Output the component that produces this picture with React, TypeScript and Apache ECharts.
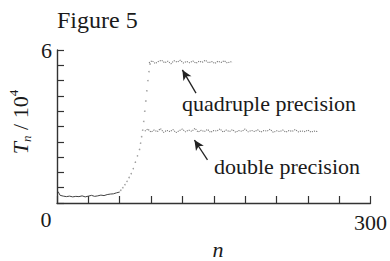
import React, { useEffect, useRef } from "react";
import * as echarts from "echarts";

const xTicks = [0, 300];
const yTicks = [0, 6];

// baseline (n, T/10^4)
const baseN = [1, 3, 6, 9, 12, 15, 18, 21, 24, 27, 30, 33, 36, 39, 42, 45, 48, 51, 54, 57, 60];
const baseT = [0.45, 0.3, 0.27, 0.25, 0.27, 0.24, 0.26, 0.25, 0.28, 0.24, 0.27, 0.3, 0.26, 0.28, 0.31, 0.29, 0.33, 0.35, 0.36, 0.4, 0.43];

// transition dots
const riseN = [61, 63, 65, 67, 69, 71, 73, 75, 77, 79, 80, 81, 82, 83, 84, 85, 86, 87, 88, 89];
const riseT = [0.5, 0.6, 0.72, 0.85, 1.0, 1.15, 1.35, 1.6, 1.85, 2.1, 2.35, 2.6, 2.86, 3.2, 3.6, 4.0, 4.4, 4.8, 5.15, 5.45];

// quadruple precision plateau
const quadN = [88, 91, 94, 97, 100, 103, 106, 109, 112, 115, 118, 121, 124, 127, 130, 133, 136, 139, 142, 145, 148, 151, 154, 157, 160, 163, 166, 168];
const quadT = [5.5, 5.58, 5.47, 5.55, 5.6, 5.5, 5.56, 5.46, 5.58, 5.52, 5.6, 5.49, 5.55, 5.5, 5.57, 5.48, 5.56, 5.52, 5.6, 5.5, 5.55, 5.47, 5.56, 5.51, 5.58, 5.49, 5.54, 5.52];

// double precision plateau
const dblN = [84, 87, 90, 93, 96, 99, 102, 105, 108, 111, 114, 117, 120, 123, 126, 129, 132, 135, 138, 141, 144, 147, 150, 153, 156, 159, 162, 165, 168, 171, 174, 177, 180, 183, 186, 189, 192, 195, 198, 201, 204, 207, 210, 213, 216, 219, 222, 225, 228, 231, 234, 237, 240, 243, 246, 250];
const dblT = [2.82, 2.9, 2.78, 2.86, 2.8, 2.92, 2.77, 2.85, 2.8, 2.88, 2.76, 2.84, 2.9, 2.79, 2.86, 2.81, 2.93, 2.78, 2.85, 2.8, 2.89, 2.77, 2.84, 2.82, 2.91, 2.78, 2.86, 2.8, 2.88, 2.77, 2.84, 2.81, 2.9, 2.79, 2.85, 2.8, 2.87, 2.78, 2.84, 2.82, 2.89, 2.77, 2.83, 2.8, 2.86, 2.78, 2.84, 2.81, 2.88, 2.79, 2.83, 2.8, 2.86, 2.78, 2.82, 2.8];

const zip = (a: number[], b: number[]) => a.map((v, i) => [v, b[i]]);

const SERIF = "Liberation Serif";
const txt = (size: number, italic = false) => ({
  fontFamily: SERIF,
  fontSize: size,
  fontStyle: italic ? "italic" : "normal",
  fill: "#1a1a1a",
});

export default function App() {
  const ref = useRef<HTMLDivElement>(null);
  useEffect(() => {
    document.body.style.margin = "0";
    if (!ref.current) return;
    const chart = echarts.init(ref.current, null, { renderer: "svg" });
    chart.setOption({
      animation: false,
      backgroundColor: "#fff",
      grid: { left: 57, right: 18, top: 50, bottom: 58 },
      xAxis: {
        type: "value",
        min: 0,
        max: 300,
        interval: 30,
        axisLine: { show: true, lineStyle: { color: "#333", width: 1.4 } },
        axisTick: { show: true, inside: true, length: 7, lineStyle: { color: "#333", width: 1.2 } },
        splitLine: { show: false },
        axisLabel: {
          show: true,
          margin: 8,
          fontFamily: SERIF,
          fontSize: 22,
          color: "#1a1a1a",
          formatter: (v: number) => (v === xTicks[1] ? String(v) : ""),
        },
      },
      yAxis: {
        type: "value",
        min: 0,
        max: 6,
        interval: 0.6,
        axisLine: { show: true, lineStyle: { color: "#333", width: 1.4 } },
        axisTick: { show: true, inside: true, length: 7, lineStyle: { color: "#333", width: 1.2 } },
        splitLine: { show: false },
        axisLabel: {
          show: true,
          margin: 5,
          fontFamily: SERIF,
          fontSize: 22,
          color: "#1a1a1a",
          formatter: (v: number) => (Math.abs(v - yTicks[1]) < 1e-9 ? String(v) : ""),
        },
      },
      series: [
        {
          type: "line",
          data: zip(baseN, baseT),
          showSymbol: false,
          lineStyle: { color: "#444", width: 1 },
        },
        {
          type: "scatter",
          data: zip(riseN, riseT),
          symbolSize: 1.6,
          itemStyle: { color: "#888" },
        },
        {
          type: "line",
          data: zip(quadN, quadT),
          showSymbol: false,
          lineStyle: { color: "#777", width: 1.1, type: "dotted" },
          markLine: {
            silent: true,
            symbol: ["none", "arrow"],
            symbolSize: [7, 10],
            label: { show: false },
            lineStyle: { color: "#222", width: 1.3, type: "solid" },
            data: [[{ coord: [133, 4.31] }, { coord: [120, 5.22] }]],
          },
        },
        {
          type: "line",
          data: zip(dblN, dblT),
          showSymbol: false,
          lineStyle: { color: "#777", width: 1.1, type: "dotted" },
          markLine: {
            silent: true,
            symbol: ["none", "arrow"],
            symbolSize: [7, 10],
            label: { show: false },
            lineStyle: { color: "#222", width: 1.3, type: "solid" },
            data: [[{ coord: [144, 1.69] }, { coord: [131.5, 2.47] }]],
          },
        },
      ],
      graphic: [
        {
          type: "text",
          x: 57,
          y: 20,
          style: { text: "Figure 5", ...txt(24), verticalAlign: "middle" },
        },
        {
          type: "text",
          x: 46,
          y: 219,
          style: { text: "0", ...txt(22), align: "center", verticalAlign: "middle" },
        },
        {
          type: "text",
          x: 218,
          y: 249,
          style: { text: "n", ...txt(22, true), align: "center", verticalAlign: "middle" },
        },
        {
          type: "text",
          x: 182,
          y: 103,
          style: { text: "quadruple precision", ...txt(22), verticalAlign: "middle" },
        },
        {
          type: "text",
          x: 214,
          y: 166,
          style: { text: "double precision", ...txt(22), verticalAlign: "middle" },
        },
        {
          type: "text",
          x: 20,
          y: 122,
          rotation: Math.PI / 2,
          style: {
            text: "{t|T}{s|n}{m| / 10}{p|4}",
            align: "center",
            verticalAlign: "middle",
            fill: "#1a1a1a",
            rich: {
              t: { fontFamily: SERIF, fontStyle: "italic", fontSize: 22, lineHeight: 26, verticalAlign: "middle" },
              s: { fontFamily: SERIF, fontStyle: "italic", fontSize: 13, lineHeight: 26, verticalAlign: "bottom" },
              m: { fontFamily: SERIF, fontSize: 22, lineHeight: 26, verticalAlign: "middle" },
              p: { fontFamily: SERIF, fontSize: 13, lineHeight: 26, verticalAlign: "top" },
            },
          },
        },
      ],
    });
    return () => chart.dispose();
  }, []);
  return <div ref={ref} style={{ width: 390, height: 261 }} />;
}
